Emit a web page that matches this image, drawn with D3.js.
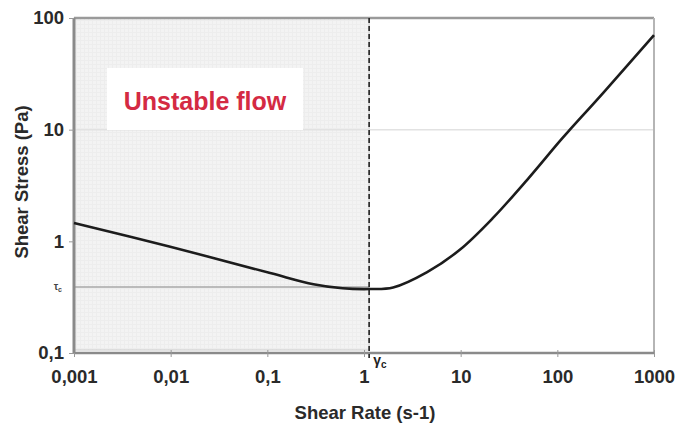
<!DOCTYPE html>
<html>
<head>
<meta charset="utf-8">
<script src="https://cdn.jsdelivr.net/npm/d3@7"></script>
<style>
  html, body { margin: 0; padding: 0; background: #fff; }
  svg { display: block; }
  text { font-family: "Liberation Sans", Arial, sans-serif; }
</style>
</head>
<body>
<svg id="chart" width="676" height="423"></svg>
<script>
// Flow curve: shear stress versus shear rate (log-log)
const shearRate   = [0.001, 0.0099, 0.107, 0.3, 0.6, 1.15, 2.0, 4.5, 9.8, 21.6, 48.5, 106, 135, 300, 1000];
const shearStress = [1.46, 0.895, 0.52, 0.413, 0.38, 0.374, 0.386, 0.53, 0.84, 1.62, 3.54, 7.9, 10, 21.5, 70.3];

const xTicks = [0.001, 0.01, 0.1, 1, 10, 100, 1000];
const xTickLabels = ["0,001", "0,01", "0,1", "1", "10", "100", "1000"];
const yTicks = [0.1, 1, 10, 100];
const yTickLabels = ["0,1", "1", "10", "100"];

const criticalRate = 1.13;    // γc, end of the unstable region
const criticalStress = 0.39;  // τc reference level

const svg = d3.select("#chart");
const margin = { left: 74, right: 22, top: 18, bottom: 70 };
const W = 676, H = 423;

const x = d3.scaleLog().domain([0.001, 1000]).range([margin.left, W - margin.right]);
const y = d3.scaleLog().domain([0.1, 100]).range([H - margin.bottom, margin.top]);

// fine grid texture for the unstable region
const defs = svg.append("defs");
const pat = defs.append("pattern")
  .attr("id", "fine").attr("width", 4).attr("height", 4)
  .attr("patternUnits", "userSpaceOnUse");
pat.append("rect").attr("width", 4).attr("height", 4).attr("fill", "#f3f3f3");
pat.append("path").attr("d", "M0,0.5H4M0.5,0V4").attr("stroke", "#ededed").attr("stroke-width", 1);

// unstable-flow region
svg.append("rect")
  .attr("x", x(0.001)).attr("y", y(100))
  .attr("width", x(criticalRate) - x(0.001))
  .attr("height", y(0.1) - y(100) - 3)
  .attr("fill", "url(#fine)")
  .attr("stroke", "#c8c8c8").attr("stroke-width", 1);

// horizontal gridline at 10
svg.append("line")
  .attr("x1", x(0.001)).attr("x2", x(1000))
  .attr("y1", y(10)).attr("y2", y(10))
  .attr("stroke", "#e2e2e2").attr("stroke-width", 1.5);

// τc reference level
svg.append("line")
  .attr("x1", x(0.001)).attr("x2", x(criticalRate))
  .attr("y1", y(criticalStress)).attr("y2", y(criticalStress))
  .attr("stroke", "#a8a8a8").attr("stroke-width", 1.5);

// plot frame
svg.append("line").attr("x1", x(0.001)).attr("x2", x(1000)).attr("y1", y(100)).attr("y2", y(100))
  .attr("stroke", "#9a9a9a").attr("stroke-width", 2.5);
svg.append("line").attr("x1", x(1000)).attr("x2", x(1000)).attr("y1", y(100)).attr("y2", y(0.1))
  .attr("stroke", "#b5b5b5").attr("stroke-width", 2);

// axes
const xAxis = d3.axisBottom(x).tickValues(xTicks).tickSize(4).tickFormat((d, i) => xTickLabels[i]);
const yAxis = d3.axisLeft(y).tickValues(yTicks).tickSize(5).tickFormat((d, i) => yTickLabels[i]);

const gx = svg.append("g").attr("transform", `translate(0,${y(0.1)})`).call(xAxis);
gx.select(".domain").attr("stroke", "#8a8a8a").attr("stroke-width", 2.5).attr("d", `M${x(0.001)},0H${x(1000)}`);
gx.selectAll(".tick line").attr("stroke", "#999").attr("y1", -3);
gx.selectAll(".tick text")
  .attr("y", 24).attr("dy", "0.32em")
  .attr("font-size", 18.5).attr("font-weight", "bold").attr("fill", "#2a2a2a");

const gy = svg.append("g").attr("transform", `translate(${x(0.001)},0)`).call(yAxis);
gy.select(".domain").attr("stroke", "#8a8a8a").attr("stroke-width", 3).attr("d", `M0,${y(100)}V${y(0.1)}`);
gy.selectAll(".tick line").attr("stroke", "#999");
gy.selectAll(".tick text")
  .attr("x", -10)
  .attr("font-size", 18.5).attr("font-weight", "bold").attr("fill", "#2a2a2a");

// τc label
const tauLabel = svg.append("text")
  .attr("x", x(0.001) - 12).attr("y", y(criticalStress) + 3)
  .attr("text-anchor", "end").attr("font-size", 10).attr("font-weight", "bold").attr("fill", "#444");
tauLabel.append("tspan").text("τ");
tauLabel.append("tspan").attr("font-size", 7).attr("dy", 2).text("c");

// critical shear rate marker
svg.append("line")
  .attr("x1", x(criticalRate)).attr("x2", x(criticalRate))
  .attr("y1", y(100)).attr("y2", y(0.1) + 5)
  .attr("stroke", "#222").attr("stroke-width", 1.6)
  .attr("stroke-dasharray", "5,3");

const gammaLabel = svg.append("text")
  .attr("x", x(criticalRate) + 4).attr("y", y(0.1) + 12)
  .attr("font-size", 14).attr("font-weight", "bold").attr("fill", "#222");
gammaLabel.append("tspan").text("γ");
gammaLabel.append("tspan").attr("font-size", 10).attr("dy", 3).text("c");

// flow curve
const line = d3.line()
  .x((d, i) => x(shearRate[i]))
  .y((d, i) => y(shearStress[i]))
  .curve(d3.curveCatmullRom.alpha(0.5));

svg.append("path")
  .datum(shearRate)
  .attr("d", line)
  .attr("fill", "none")
  .attr("stroke", "#1c1c1c")
  .attr("stroke-width", 2.6)
  .attr("stroke-linejoin", "round");

// region caption
svg.append("rect")
  .attr("x", 107).attr("y", 68).attr("width", 196).attr("height", 62)
  .attr("fill", "#ffffff");
svg.append("text")
  .attr("x", 205).attr("y", 110)
  .attr("text-anchor", "middle")
  .attr("font-family", "Lato, 'Open Sans', sans-serif")
  .attr("font-size", 25).attr("font-weight", "bold")
  .attr("fill", "#d42a43")
  .text("Unstable flow");

// axis titles
svg.append("text")
  .attr("x", 365).attr("y", 419)
  .attr("text-anchor", "middle")
  .attr("font-size", 18.5).attr("font-weight", "bold").attr("fill", "#2a2a2a")
  .text("Shear Rate (s-1)");

svg.append("text")
  .attr("transform", `translate(28,182) rotate(-90)`)
  .attr("text-anchor", "middle")
  .attr("font-size", 18.5).attr("font-weight", "bold").attr("fill", "#2a2a2a")
  .text("Shear Stress (Pa)");
</script>
</body>
</html>
